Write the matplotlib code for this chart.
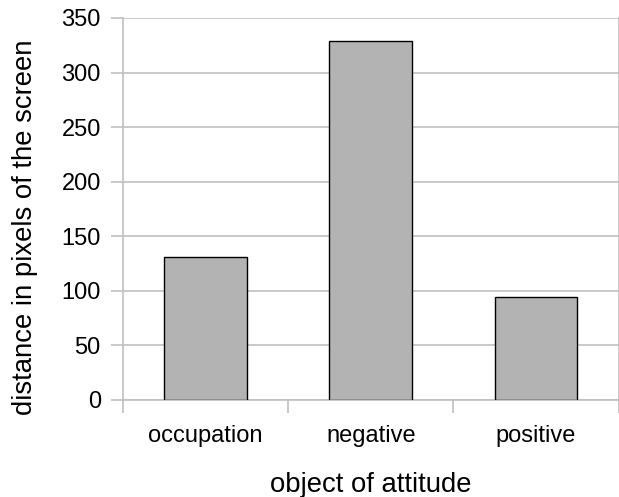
import numpy as np
import matplotlib
matplotlib.use("Agg")
import matplotlib.pyplot as plt

# values
categories = ["occupation", "negative", "positive"]
distances = [131, 329, 94]
y_ticks = [0, 50, 100, 150, 200, 250, 300, 350]

plt.rcParams['font.family'] = ['Liberation Sans', 'DejaVu Sans']

fig = plt.figure(figsize=(6.19, 4.97), dpi=100)
ax = fig.add_axes([123 / 619, 1 - 400 / 497, (618.5 - 123) / 619, (400 - 18) / 497])

x = np.arange(len(categories))
ax.bar(x, distances, width=0.5, color="#b3b3b3", edgecolor="black",
       linewidth=1.0, zorder=3)

grid_col = "#c0c0c0"
ax.set_ylim(0, 350)
ax.set_xlim(-0.5, len(categories) - 0.5)
ax.set_yticks(y_ticks)
ax.yaxis.grid(True, color=grid_col, linewidth=1.2, zorder=0)
ax.set_axisbelow(True)

# category boundaries get the tick marks, labels sit in the middle
ax.set_xticks(np.arange(len(categories) + 1) - 0.5)
ax.set_xticklabels([])
ax.set_xticks(x, minor=True)
ax.set_xticklabels(categories, minor=True, fontsize=17)
ax.tick_params(axis="x", which="major", length=9, width=1.2, color=grid_col, direction="out")
ax.tick_params(axis="x", which="minor", length=0, pad=18)
ax.tick_params(axis="y", length=9, width=1.2, color=grid_col, labelsize=17, pad=7)

for side in ["left", "right", "bottom"]:
    ax.spines[side].set_color(grid_col)
    ax.spines[side].set_linewidth(1.2)
ax.spines["top"].set_visible(False)

ax.set_xlabel("object of attitude", fontsize=19.8, labelpad=18)
ax.set_ylabel("distance in pixels of the screen", fontsize=19.8)
ax.yaxis.set_label_coords(-0.172, 0.453)

fig.savefig("out.png", dpi=100)
